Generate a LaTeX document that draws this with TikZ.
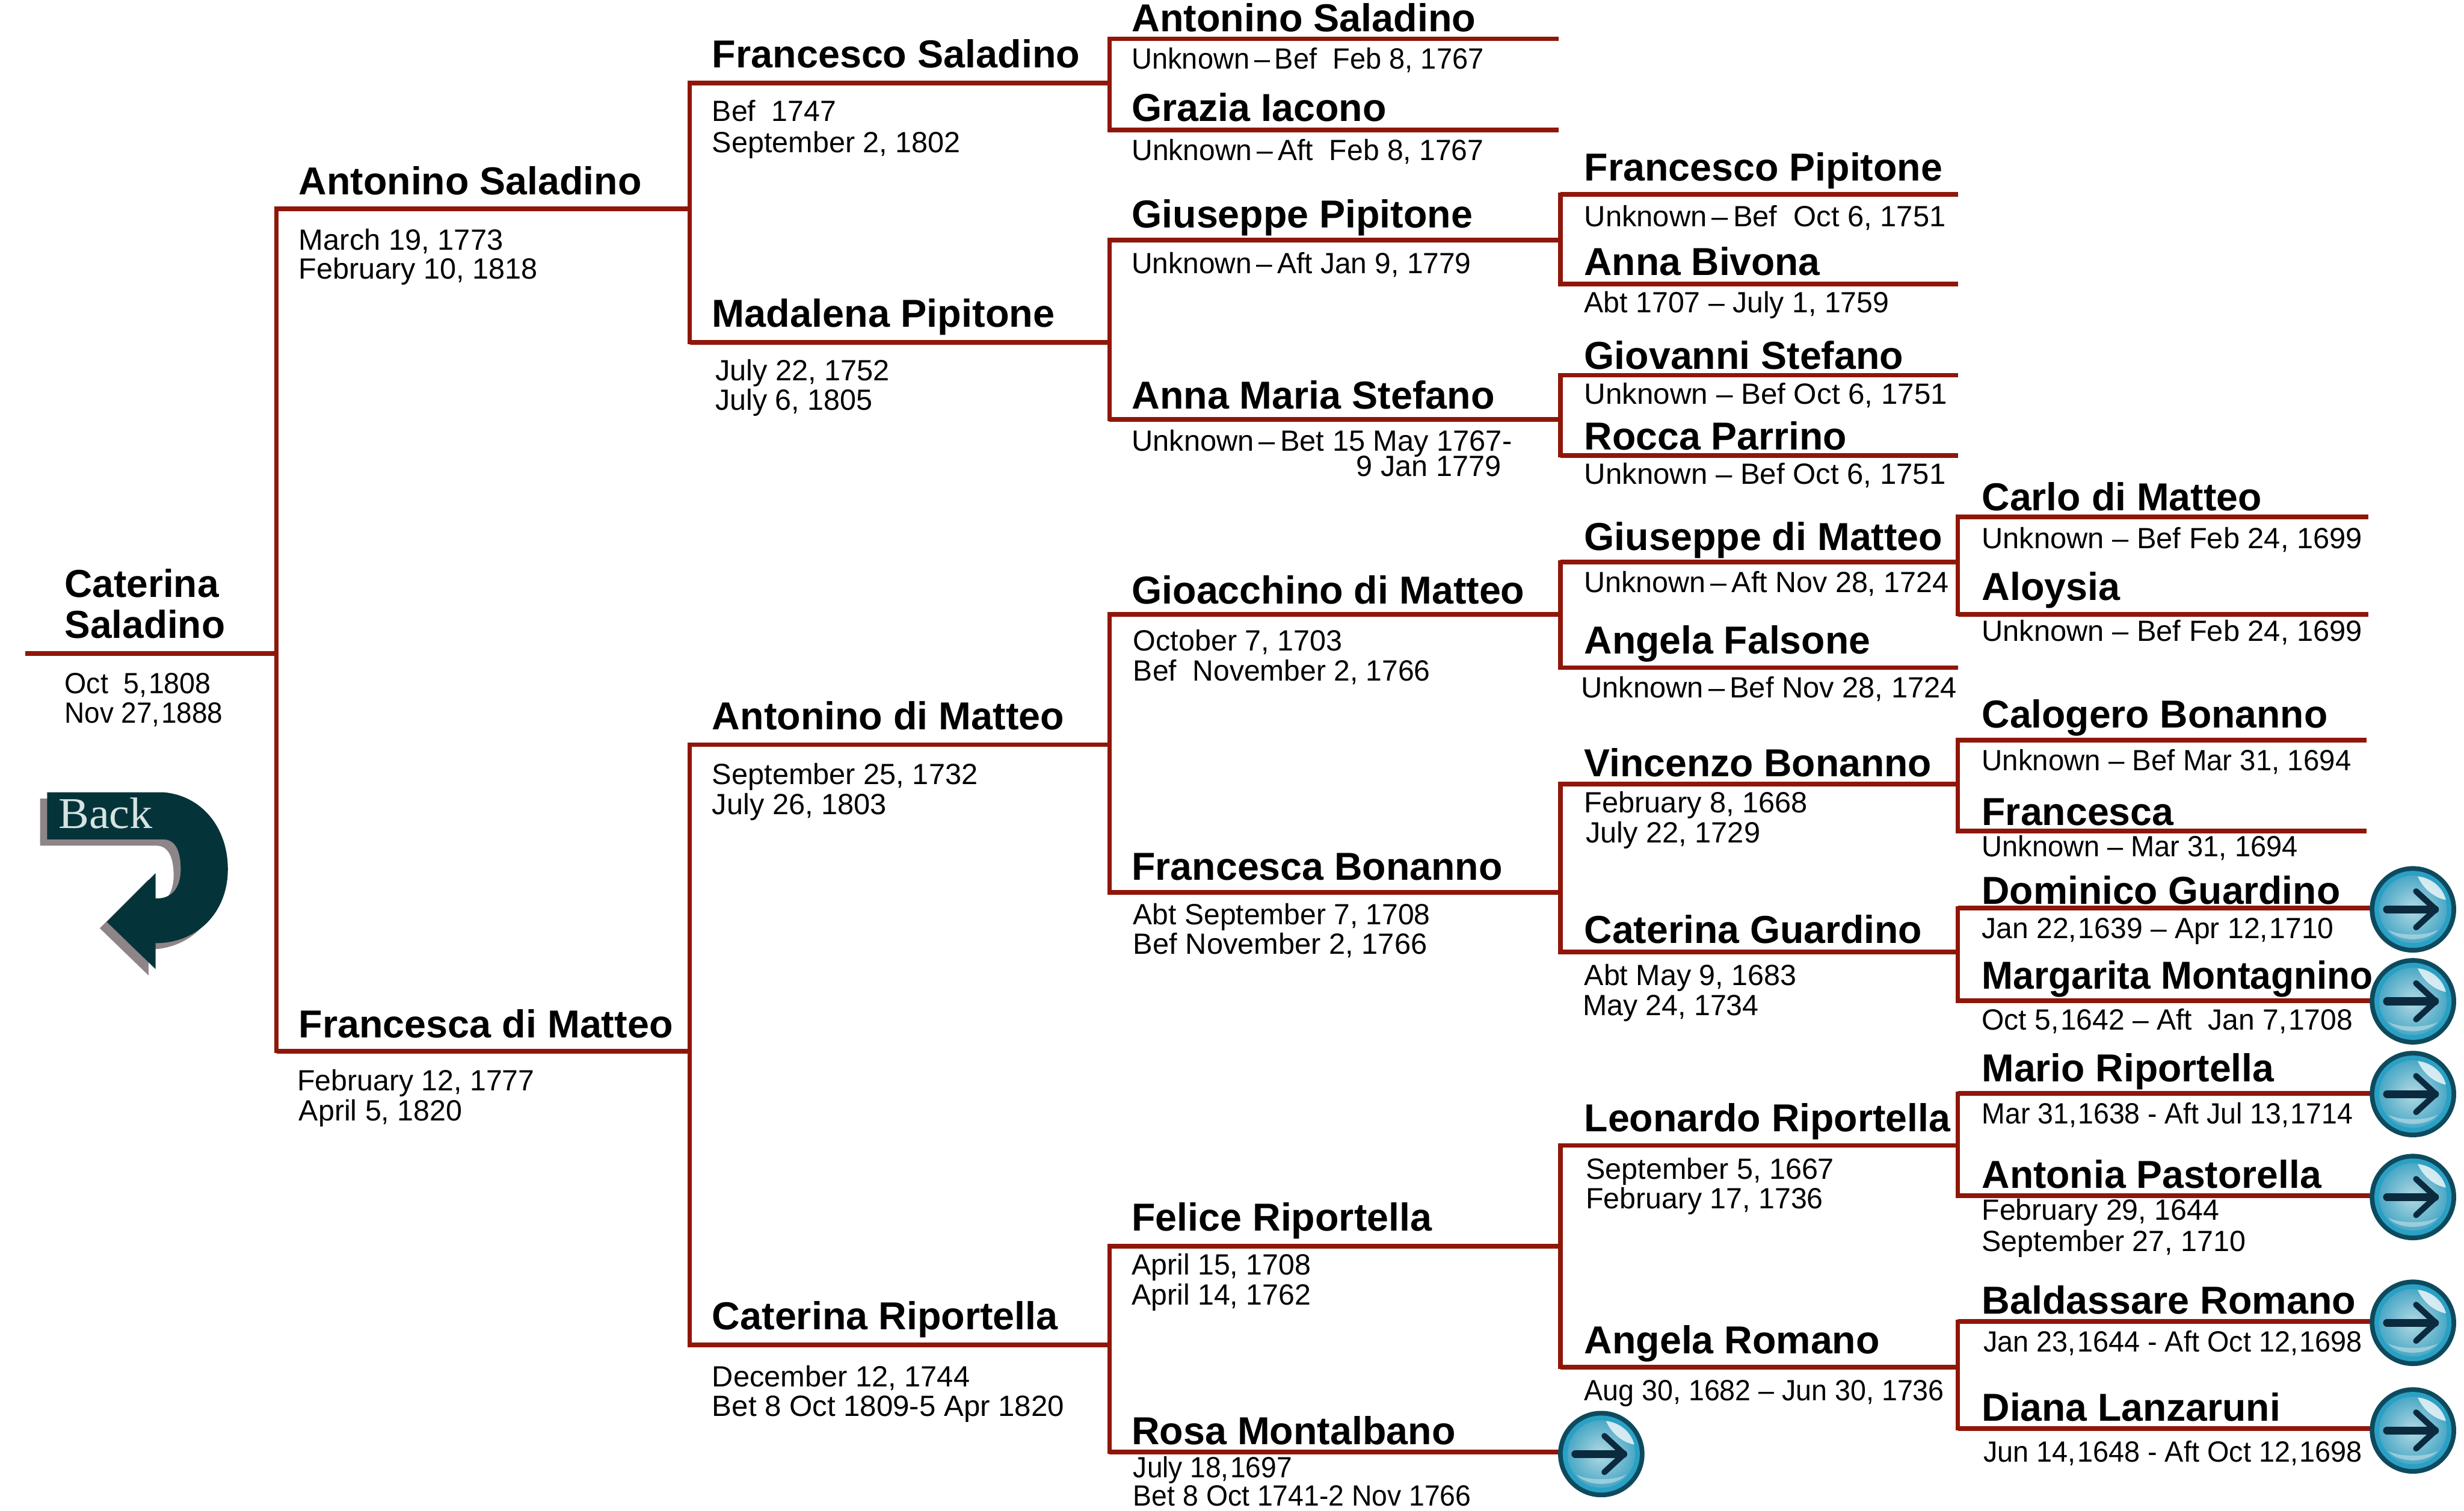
\documentclass[tikz,border=0pt]{standalone}
\usepackage{fontspec}
\usepackage{graphicx}
\setmainfont{Liberation Sans}
\newfontfamily\backfont{Liberation Serif}
\definecolor{rulered}{HTML}{8F170A}
\definecolor{backdark}{HTML}{04343A}
\definecolor{backshadow}{HTML}{8E8588}
\definecolor{backtext}{HTML}{D5E3E1}
\definecolor{btnedge}{HTML}{0E4A5E}
\definecolor{btnring}{HTML}{2AA0C4}
\definecolor{btnmid}{HTML}{4AA8C6}
\definecolor{btnlight}{HTML}{B4DAE4}
\definecolor{btnarrow}{HTML}{0B2A3E}
\newcommand{\fitw}[3]{\pgfmathparse{#2-#1}\resizebox{\pgfmathresult pt}{\height}{#3}}
% person name: id, x, baseline, right end, text
\newcommand{\pname}[5]{\node[namestyle] (#1) at (#2,#3) {\fitw{#2}{#4}{#5}};}
\newcommand{\pdate}[5]{\node[datestyle] (#1) at (#2,#3) {\fitw{#2}{#4}{#5}};}
% horizontal rule: id, x1, x2, y
\newcommand{\prule}[4]{\coordinate (#1l) at (#2,#4+0.7); \coordinate (#1r) at (#3,#4+0.7); \draw[rulestyle] (#1l) -- (#1r);}
\tikzset{
  namestyle/.style={anchor=base west,inner sep=0pt,font=\fontsize{24.8}{26}\selectfont\bfseries,text=black},
  datestyle/.style={anchor=base west,inner sep=0pt,font=\fontsize{18.6}{20}\selectfont,text=black},
  rulestyle/.style={draw=rulered,line width=3pt,line cap=butt},
  bracketstyle/.style={draw=rulered,line width=2.7pt,line cap=rect},
  button/.pic={
    \fill[btnedge] (0,0) ellipse (27.5 and 27.5);
    \fill[btnring] (0,0) ellipse (24.5 and 24.5);
    \shade[inner color=btnlight,outer color=btnmid] (0,0) ellipse (21.5 and 21.5);
    \fill[white,opacity=.75] (3,-21) .. controls (12,-20) and (19,-14) .. (21,-6) .. controls (15,-7) and (7,-12) .. (3,-21) -- cycle;
    \fill[btnlight,opacity=.7] (-16,13) .. controls (-9,21) and (9,21) .. (16,13) .. controls (9,17) and (-9,17) .. (-16,13) -- cycle;
    \draw[btnarrow,line width=5pt,line cap=round] (-16.5,0) -- (14,0);
    \draw[btnarrow,line width=3.8pt,line cap=round,line join=round] (2,-11.5) -- (14.5,0) -- (2,11.5);
  }
}
\begin{document}
\begin{tikzpicture}[x=1pt,y=-1pt]
\useasboundingbox (0,0) rectangle (1568,961);
% rules
\prule{p1}{16}{176}{415}
\prule{a1}{176}{439}{132}
\prule{a2}{176}{439}{668}
\prule{b1}{439}{706}{52}
\prule{b2}{439}{706}{217}
\prule{b3}{439}{706}{473}
\prule{b4}{439}{706}{855}
\prule{c1}{706}{992}{24}
\prule{c2}{706}{992}{82}
\prule{c3}{706}{993}{152}
\prule{c4}{706}{993}{266}
\prule{c5}{706}{993}{390}
\prule{c6}{706}{993}{567}
\prule{c7}{706}{993}{792}
\prule{c8}{706}{992}{923}
\prule{d1}{993}{1246}{123}
\prule{d2}{993}{1246}{180}
\prule{d3}{993}{1246}{238}
\prule{d4}{993}{1246}{289}
\prule{d5}{993}{1246}{357}
\prule{d6}{993}{1246}{424}
\prule{d7}{993}{1246}{498}
\prule{d8}{993}{1246}{605}
\prule{d9}{993}{1246}{728}
\prule{d10}{993}{1246}{869}
\prule{e1}{1246}{1507}{328}
\prule{e2}{1246}{1507}{390}
\prule{e3}{1246}{1506}{470}
\prule{e4}{1246}{1506}{528}
\prule{e5}{1246}{1510}{577}
\prule{e6}{1246}{1510}{636}
\prule{e7}{1246}{1510}{695}
\prule{e8}{1246}{1510}{760}
\prule{e9}{1246}{1510}{840}
\prule{e10}{1246}{1510}{908}
% brackets
\draw[bracketstyle] (a1l) -- (a2l);
\draw[bracketstyle] (b1l) -- (b2l);
\draw[bracketstyle] (b3l) -- (b4l);
\draw[bracketstyle] (c1l) -- (c2l);
\draw[bracketstyle] (c3l) -- (c4l);
\draw[bracketstyle] (c5l) -- (c6l);
\draw[bracketstyle] (c7l) -- (c8l);
\draw[bracketstyle] (d1l) -- (d2l);
\draw[bracketstyle] (d3l) -- (d4l);
\draw[bracketstyle] (d5l) -- (d6l);
\draw[bracketstyle] (d7l) -- (d8l);
\draw[bracketstyle] (d9l) -- (d10l);
\draw[bracketstyle] (e1l) -- (e2l);
\draw[bracketstyle] (e3l) -- (e4l);
\draw[bracketstyle] (e5l) -- (e6l);
\draw[bracketstyle] (e7l) -- (e8l);
\draw[bracketstyle] (e9l) -- (e10l);
% root
\pname{n0a}{41}{380}{139}{Caterina}
\pname{n0b}{41}{406}{143}{Saladino}
\pdate{t0a}{41}{441}{134}{Oct\ \ 5,\hspace{1pt}1808}
\pdate{t0b}{41}{460}{141.5}{Nov 27,\hspace{1pt}1888}
% column 1
\pname{na1}{190}{124}{408}{Antonino Saladino}
\pdate{ta1a}{190}{159}{320}{March 19, 1773}
\pdate{ta1b}{190}{177.5}{342}{February 10, 1818}
\pname{na2}{190}{660}{428}{Francesca di Matteo}
\pdate{ta2a}{189}{694}{340}{February 12, 1777}
\pdate{ta2b}{190}{713}{294}{April 5, 1820}
% column 2
\pname{nb1}{453}{43}{687}{Francesco Saladino}
\pdate{tb1a}{453}{77}{532}{Bef\ \ 1747}
\pdate{tb1b}{453}{97}{611}{September 2, 1802}
\pname{nb2}{453}{208}{671}{Madalena Pipitone}
\pdate{tb2a}{455}{242}{566}{July 22, 1752}
\pdate{tb2b}{455}{261}{555}{July 6, 1805}
\pname{nb3}{453}{464}{677}{Antonino di Matteo}
\pdate{tb3a}{453}{499}{622}{September 25, 1732}
\pdate{tb3b}{453}{518}{564}{July 26, 1803}
\pname{nb4}{453}{846}{673}{Caterina Riportella}
\pdate{tb4a}{453}{882}{617}{December 12, 1744}
\pdate{tb4b}{453}{901}{677}{Bet 8 Oct 1809-5 Apr 1820}
% column 3
\pname{nc1}{720}{20}{939}{Antonino Saladino}
\pdate{tc1}{720}{44}{944}{Unknown\,--\,Bef\ \ Feb 8, 1767}
\pname{nc2}{720}{77}{882}{Grazia Iacono}
\pdate{tc2}{720}{102}{944}{Unknown\,--\,Aft\ \ Feb 8, 1767}
\pname{nc3}{720}{145}{937}{Giuseppe Pipitone}
\pdate{tc3}{720}{174}{936}{Unknown\,--\,Aft Jan 9, 1779}
\pname{nc4}{720}{260}{951}{Anna Maria Stefano}
\pdate{tc4a}{720}{287}{962}{Unknown\,--\,Bet 15 May 1767-}
\pdate{tc4b}{863}{303}{955}{9 Jan 1779}
\pname{nc5}{720}{384}{970}{Gioacchino di Matteo}
\pdate{tc5a}{721}{414}{854}{October 7, 1703}
\pdate{tc5b}{721}{433}{910}{Bef\ \ November 2, 1766}
\pname{nc6}{720}{560}{956}{Francesca Bonanno}
\pdate{tc6a}{721}{588}{910}{Abt September 7, 1708}
\pdate{tc6b}{721}{607}{908}{Bef November 2, 1766}
\pname{nc7}{720}{783}{911}{Felice Riportella}
\pdate{tc7a}{720}{811}{834}{April 15, 1708}
\pdate{tc7b}{720}{830}{834}{April 14, 1762}
\pname{nc8}{720}{919}{926}{Rosa Montalbano}
\pdate{tc8a}{721}{940}{822}{July 18,\hspace{1pt}1697}
\pdate{tc8b}{721}{958}{936}{Bet 8 Oct 1741-2 Nov 1766}
% column 4
\pname{nd1}{1008}{115}{1236}{Francesco Pipitone}
\pdate{td1}{1008}{144}{1238}{Unknown\,--\,Bef\ \ Oct 6, 1751}
\pname{nd2}{1008}{175}{1158}{Anna Bivona}
\pdate{td2}{1008}{199}{1202}{Abt 1707 -- July 1, 1759}
\pname{nd3}{1008}{235}{1211}{Giovanni Stefano}
\pdate{td3}{1008}{257}{1239}{Unknown -- Bef Oct 6, 1751}
\pname{nd4}{1008}{286}{1175}{Rocca Parrino}
\pdate{td4}{1008}{308}{1238}{Unknown -- Bef Oct 6, 1751}
\pname{nd5}{1008}{350}{1236}{Giuseppe di Matteo}
\pdate{td5}{1008}{377}{1240}{Unknown\,--\,Aft Nov 28, 1724}
\pname{nd6}{1008}{416}{1190}{Angela Falsone}
\pdate{td6}{1006}{444}{1245}{Unknown\,--\,Bef Nov 28, 1724}
\pname{nd7}{1008}{494}{1229}{Vincenzo Bonanno}
\pdate{td7a}{1008}{517}{1150}{February 8, 1668}
\pdate{td7b}{1009}{536}{1120}{July 22, 1729}
\pname{nd8}{1008}{600}{1223}{Caterina Guardino}
\pdate{td8a}{1008}{627}{1143}{Abt May 9, 1683}
\pdate{td8b}{1007}{646}{1119}{May 24, 1734}
\pname{nd9}{1008}{720}{1241}{Leonardo Riportella}
\pdate{td9a}{1009}{750}{1167}{September 5, 1667}
\pdate{td9b}{1009}{769}{1160}{February 17, 1736}
\pname{nd10}{1008}{861}{1196}{Angela Romano}
\pdate{td10}{1008}{891}{1237}{Aug 30, 1682 -- Jun 30, 1736}
% column 5
\pname{ne1}{1261}{325}{1439}{Carlo di Matteo}
\pdate{te1}{1261}{349}{1503}{Unknown -- Bef Feb 24, 1699}
\pname{ne2}{1261}{382}{1349}{Aloysia}
\pdate{te2}{1261}{408}{1503}{Unknown -- Bef Feb 24, 1699}
\pname{ne3}{1261}{463}{1481}{Calogero Bonanno}
\pdate{te3}{1261}{490}{1496}{Unknown -- Bef Mar 31, 1694}
\pname{ne4}{1261}{525}{1383}{Francesca}
\pdate{te4}{1261}{545}{1462}{Unknown -- Mar 31, 1694}
\pname{ne5}{1261}{575}{1489}{Dominico Guardino}
\pdate{te5}{1261}{597}{1485}{Jan 22,\hspace{1pt}1639 -- Apr 12,\hspace{1pt}1710}
\pname{ne6}{1261}{629}{1510}{Margarita Montagnino}
\pdate{te6}{1261}{655}{1497}{Oct 5,\hspace{1pt}1642 -- Aft\ \ Jan 7,\hspace{1pt}1708}
\pname{ne7}{1261}{688}{1447}{Mario Riportella}
\pdate{te7}{1261}{715}{1497}{Mar 31,\hspace{1pt}1638 - Aft Jul 13,\hspace{1pt}1714}
\pname{ne8}{1261}{756}{1477}{Antonia Pastorella}
\pdate{te8a}{1261}{776}{1412}{February 29, 1644}
\pdate{te8b}{1261}{796}{1429}{September 27, 1710}
\pname{ne9}{1261}{836}{1499}{Baldassare Romano}
\pdate{te9}{1262}{860}{1503}{Jan 23,\hspace{1pt}1644 - Aft Oct 12,\hspace{1pt}1698}
\pname{ne10}{1261}{904}{1451}{Diana Lanzaruni}
\pdate{te10}{1262}{930}{1503}{Jun 14,\hspace{1pt}1648 - Aft Oct 12,\hspace{1pt}1698}
% buttons
\foreach \bx/\by in {1535.5/578.5,1535.5/637,1535.5/696,1535.5/761.5,1535.5/841.5,1535.5/910,1019/925}
  \pic at (\bx,\by) {button};
% back arrow
\def\backpath{(30,504) -- (104,504) .. controls (128,506) and (145,526) .. (145,553)
  .. controls (145,580) and (126,600) .. (99,600) -- (99,616.5) -- (68,586.5) -- (99,555.5) -- (99,571.5)
  .. controls (110,572) and (115,564) .. (115,553) .. controls (115,542) and (112,534) .. (104,534) -- (30,534) -- cycle}
\fill[backshadow,shift={(-4.5,4)}] \backpath;
\fill[backdark] \backpath;
\node[anchor=base west,inner sep=0pt,text=backtext,font=\backfont\fontsize{28}{30}\selectfont] (backlabel) at (37,527) {\fitw{37}{97}{Back}};
\end{tikzpicture}
\end{document}
